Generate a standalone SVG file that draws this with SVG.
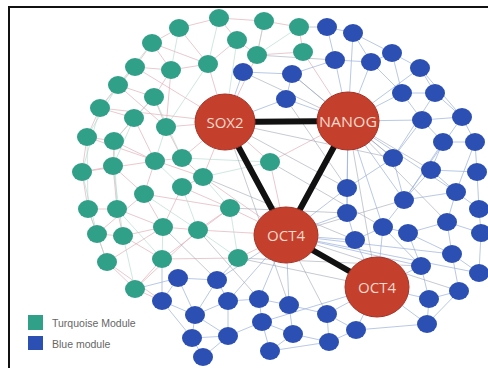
<svg xmlns="http://www.w3.org/2000/svg" width="488" height="368" viewBox="0 0 488 368">
<defs>
<style>
.t{fill:#31a088}
.b{fill:#2c4fb4}
.hub{fill:#c4402d;stroke:#a83224;stroke-width:1}
.hl{font-family:"Open Sans","DejaVu Sans",sans-serif;font-size:15px;fill:#f7d8cb;text-anchor:middle}
.ep{fill:none;stroke:#e3b3bb;stroke-width:0.8;opacity:0.9}
.et{fill:none;stroke:#a9d6c9;stroke-width:0.7;opacity:0.8}
.eb{fill:none;stroke:#9db3db;stroke-width:0.8;opacity:0.9}
.eg{fill:none;stroke:#9aa0b0;stroke-width:0.7;opacity:0.8}
.ek{stroke:#111;stroke-width:6;stroke-linecap:round}
.lg{font-family:"Liberation Sans",Arial,sans-serif;font-size:10.5px;fill:#666}
</style>
</defs>
<rect width="488" height="368" fill="#fff"/>
<path d="M9 368V7H488" fill="none" stroke="#111" stroke-width="2"/>
<g id="connectors">
<path class="ep" d="M219 18L179 28M219 18L237 40M179 28L152 43M152 43L135 67M135 67L118 85M118 85L100 108M100 108L87 137M87 137L82 172M82 172L88 209M88 209L97 234M97 234L107 262M107 262L135 289M152 43L171 70M171 70L154 97M154 97L134 118M134 118L114 141M114 141L113 166M113 166L117 209M117 209L123 236M123 236L162 259M162 259L135 289M135 67L171 70M118 85L154 97M100 108L134 118M87 137L114 141M82 172L113 166M88 209L117 209M97 234L123 236M171 70L208 64M208 64L237 40M154 97L166 127M166 127L182 158M155 161L182 158M155 161L144 194M144 194L163 227M163 227L198 230M198 230L230 208M203 177L182 187M182 187L163 227M166 127L225 122M208 64L225 122M182 158L225 122M203 177L286 235M230 208L286 235M198 230L286 235M238 258L286 235M134 118L155 161M114 141L155 161M113 166L144 194M117 209L163 227M123 236L163 227M182 187L230 208M179 28L208 64M237 40L257 55M257 55L264 21M264 21L299 27M299 27L303 52M303 52L257 55M219 18L264 21M257 55L225 122M303 52L348 121M270 162L286 235M270 162L348 121M270 162L225 122M162 259L238 258M135 289L162 301M107 262L162 301M100 108L225 122M87 137L203 177M118 85L166 127M135 67L225 122M152 43L208 64M82 172L155 161M97 234L144 194M107 262L163 227M135 289L198 230M162 259L230 208M144 194L230 208M203 177L225 122M182 158L203 177M171 70L166 127"/>
<path class="et" d="M179 28L171 70M152 43L118 85M135 67L100 108M118 85L87 137M100 108L82 172M87 137L88 209M82 172L97 234M88 209L107 262M154 97L114 141M134 118L113 166M114 141L117 209M113 166L123 236M117 209L162 259M123 236L135 289M166 127L155 161M154 97L182 158M155 161L182 187M144 194L198 230M163 227L162 259M182 187L198 230M203 177L230 208M219 18L208 64M237 40L225 122M264 21L257 55M299 27L257 55M208 64L166 127M182 158L270 162M203 177L270 162M230 208L238 258M198 230L238 258"/>
<path class="eb" d="M327 27L353 33M327 27L335 60M353 33L371 62M335 60L292 74M335 60L371 62M371 62L392 53M392 53L420 68M392 53L402 93M420 68L435 93M402 93L435 93M402 93L422 120M435 93L462 117M422 120L462 117M422 120L443 142M462 117L475 142M443 142L475 142M443 142L431 170M475 142L477 172M431 170L477 172M431 170L456 192M477 172L479 209M456 192L479 209M456 192L447 222M479 209L481 233M447 222L481 233M447 222L452 254M481 233L479 273M452 254L479 273M452 254L459 291M459 291L429 299M429 299L427 324M421 266L429 299M421 266L408 233M408 233L383 227M383 227L404 200M404 200L393 158M393 158L422 120M408 233L447 222M355 240L347 213M347 213L347 188M347 188L393 158M243 72L292 74M292 74L286 99M286 99L225 122M243 72L225 122M286 99L348 121M292 74L348 121M335 60L348 121M371 62L348 121M402 93L348 121M422 120L348 121M393 158L348 121M347 188L348 121M347 213L348 121M404 200L348 121M383 227L348 121M456 192L348 121M347 213L286 235M355 240L286 235M347 188L286 235M259 299L286 235M289 305L286 235M327 314L377 287M356 330L377 287M427 324L377 287M429 299L377 287M421 266L377 287M355 240L377 287M383 227L377 287M259 299L289 305M289 305L327 314M327 314L356 330M262 322L293 334M293 334L329 342M329 342L270 351M262 322L270 351M259 299L262 322M289 305L293 334M356 330L329 342M178 278L217 280M217 280L228 301M228 301L195 315M195 315L192 338M192 338L203 357M228 336L203 357M162 301L195 315M178 278L162 301M228 301L228 336M195 315L228 336M228 301L259 299M217 280L238 258M178 278L135 289M286 235L217 280M286 235L228 301M262 322L377 287M286 235L479 273M286 235L452 254M286 235L421 266M162 301L162 259M353 33L348 121M420 68L348 121M435 93L393 158M462 117L404 200M443 142L404 200M431 170L404 200M475 142L456 192M420 68L462 117M371 62L402 93M353 33L392 53M408 233L452 254M383 227L421 266M355 240L383 227M404 200L456 192M427 324L459 291M356 330L427 324M327 314L329 342M293 334L270 351M228 336L262 322M192 338L228 336M162 301L192 338M178 278L195 315M217 280L195 315"/>
<path class="eg" d="M348 121L377 287M225 122L393 158M286 235L404 200M225 122L347 188M270 162L383 227M203 177L355 240M238 258L421 266M286 235L459 291M243 72L348 121M257 55L335 60M299 27L327 27M225 122L289 305M286 99L347 188M292 74L393 158M348 121L447 222M348 121L431 170M286 235L327 314M238 258L377 287M230 208L347 213M198 230L259 299M163 227L217 280"/>
<line class="ek" x1="225" y1="122" x2="348" y2="121"/>
<line class="ek" x1="225" y1="122" x2="286" y2="235"/>
<line class="ek" x1="348" y1="121" x2="286" y2="235"/>
<line class="ek" x1="286" y1="235" x2="377" y2="287"/>
</g>
<g id="t1"><ellipse class="t" cx="219" cy="18" rx="10" ry="9"/></g>
<g id="t2"><ellipse class="t" cx="179" cy="28" rx="10" ry="9"/></g>
<g id="t3"><ellipse class="t" cx="264" cy="21" rx="10" ry="9"/></g>
<g id="t4"><ellipse class="t" cx="299" cy="27" rx="10" ry="9"/></g>
<g id="t5"><ellipse class="t" cx="237" cy="40" rx="10" ry="9"/></g>
<g id="t6"><ellipse class="t" cx="152" cy="43" rx="10" ry="9"/></g>
<g id="t7"><ellipse class="t" cx="257" cy="55" rx="10" ry="9"/></g>
<g id="t8"><ellipse class="t" cx="303" cy="52" rx="10" ry="9"/></g>
<g id="t9"><ellipse class="t" cx="135" cy="67" rx="10" ry="9"/></g>
<g id="t10"><ellipse class="t" cx="171" cy="70" rx="10" ry="9"/></g>
<g id="t11"><ellipse class="t" cx="208" cy="64" rx="10" ry="9"/></g>
<g id="t12"><ellipse class="t" cx="118" cy="85" rx="10" ry="9"/></g>
<g id="t13"><ellipse class="t" cx="154" cy="97" rx="10" ry="9"/></g>
<g id="t14"><ellipse class="t" cx="100" cy="108" rx="10" ry="9"/></g>
<g id="t15"><ellipse class="t" cx="134" cy="118" rx="10" ry="9"/></g>
<g id="t16"><ellipse class="t" cx="166" cy="127" rx="10" ry="9"/></g>
<g id="t17"><ellipse class="t" cx="87" cy="137" rx="10" ry="9"/></g>
<g id="t18"><ellipse class="t" cx="114" cy="141" rx="10" ry="9"/></g>
<g id="t19"><ellipse class="t" cx="155" cy="161" rx="10" ry="9"/></g>
<g id="t20"><ellipse class="t" cx="182" cy="158" rx="10" ry="9"/></g>
<g id="t21"><ellipse class="t" cx="82" cy="172" rx="10" ry="9"/></g>
<g id="t22"><ellipse class="t" cx="113" cy="166" rx="10" ry="9"/></g>
<g id="t23"><ellipse class="t" cx="203" cy="177" rx="10" ry="9"/></g>
<g id="t24"><ellipse class="t" cx="182" cy="187" rx="10" ry="9"/></g>
<g id="t25"><ellipse class="t" cx="144" cy="194" rx="10" ry="9"/></g>
<g id="t26"><ellipse class="t" cx="88" cy="209" rx="10" ry="9"/></g>
<g id="t27"><ellipse class="t" cx="117" cy="209" rx="10" ry="9"/></g>
<g id="t28"><ellipse class="t" cx="230" cy="208" rx="10" ry="9"/></g>
<g id="t29"><ellipse class="t" cx="163" cy="227" rx="10" ry="9"/></g>
<g id="t30"><ellipse class="t" cx="198" cy="230" rx="10" ry="9"/></g>
<g id="t31"><ellipse class="t" cx="97" cy="234" rx="10" ry="9"/></g>
<g id="t32"><ellipse class="t" cx="123" cy="236" rx="10" ry="9"/></g>
<g id="t33"><ellipse class="t" cx="162" cy="259" rx="10" ry="9"/></g>
<g id="t34"><ellipse class="t" cx="238" cy="258" rx="10" ry="9"/></g>
<g id="t35"><ellipse class="t" cx="107" cy="262" rx="10" ry="9"/></g>
<g id="t36"><ellipse class="t" cx="135" cy="289" rx="10" ry="9"/></g>
<g id="t37"><ellipse class="t" cx="270" cy="162" rx="10" ry="9"/></g>
<g id="b1"><ellipse class="b" cx="243" cy="72" rx="10" ry="9"/></g>
<g id="b2"><ellipse class="b" cx="327" cy="27" rx="10" ry="9"/></g>
<g id="b3"><ellipse class="b" cx="353" cy="33" rx="10" ry="9"/></g>
<g id="b4"><ellipse class="b" cx="335" cy="60" rx="10" ry="9"/></g>
<g id="b5"><ellipse class="b" cx="292" cy="74" rx="10" ry="9"/></g>
<g id="b6"><ellipse class="b" cx="371" cy="62" rx="10" ry="9"/></g>
<g id="b7"><ellipse class="b" cx="392" cy="53" rx="10" ry="9"/></g>
<g id="b8"><ellipse class="b" cx="420" cy="68" rx="10" ry="9"/></g>
<g id="b9"><ellipse class="b" cx="286" cy="99" rx="10" ry="9"/></g>
<g id="b10"><ellipse class="b" cx="402" cy="93" rx="10" ry="9"/></g>
<g id="b11"><ellipse class="b" cx="435" cy="93" rx="10" ry="9"/></g>
<g id="b12"><ellipse class="b" cx="422" cy="120" rx="10" ry="9"/></g>
<g id="b13"><ellipse class="b" cx="462" cy="117" rx="10" ry="9"/></g>
<g id="b14"><ellipse class="b" cx="393" cy="158" rx="10" ry="9"/></g>
<g id="b15"><ellipse class="b" cx="443" cy="142" rx="10" ry="9"/></g>
<g id="b16"><ellipse class="b" cx="475" cy="142" rx="10" ry="9"/></g>
<g id="b17"><ellipse class="b" cx="431" cy="170" rx="10" ry="9"/></g>
<g id="b18"><ellipse class="b" cx="477" cy="172" rx="10" ry="9"/></g>
<g id="b19"><ellipse class="b" cx="347" cy="188" rx="10" ry="9"/></g>
<g id="b20"><ellipse class="b" cx="347" cy="213" rx="10" ry="9"/></g>
<g id="b21"><ellipse class="b" cx="404" cy="200" rx="10" ry="9"/></g>
<g id="b22"><ellipse class="b" cx="456" cy="192" rx="10" ry="9"/></g>
<g id="b23"><ellipse class="b" cx="479" cy="209" rx="10" ry="9"/></g>
<g id="b24"><ellipse class="b" cx="383" cy="227" rx="10" ry="9"/></g>
<g id="b25"><ellipse class="b" cx="408" cy="233" rx="10" ry="9"/></g>
<g id="b26"><ellipse class="b" cx="447" cy="222" rx="10" ry="9"/></g>
<g id="b27"><ellipse class="b" cx="481" cy="233" rx="10" ry="9"/></g>
<g id="b28"><ellipse class="b" cx="355" cy="240" rx="10" ry="9"/></g>
<g id="b29"><ellipse class="b" cx="452" cy="254" rx="10" ry="9"/></g>
<g id="b30"><ellipse class="b" cx="421" cy="266" rx="10" ry="9"/></g>
<g id="b31"><ellipse class="b" cx="479" cy="273" rx="10" ry="9"/></g>
<g id="b32"><ellipse class="b" cx="259" cy="299" rx="10" ry="9"/></g>
<g id="b33"><ellipse class="b" cx="289" cy="305" rx="10" ry="9"/></g>
<g id="b34"><ellipse class="b" cx="327" cy="314" rx="10" ry="9"/></g>
<g id="b35"><ellipse class="b" cx="429" cy="299" rx="10" ry="9"/></g>
<g id="b36"><ellipse class="b" cx="459" cy="291" rx="10" ry="9"/></g>
<g id="b37"><ellipse class="b" cx="262" cy="322" rx="10" ry="9"/></g>
<g id="b38"><ellipse class="b" cx="293" cy="334" rx="10" ry="9"/></g>
<g id="b39"><ellipse class="b" cx="356" cy="330" rx="10" ry="9"/></g>
<g id="b40"><ellipse class="b" cx="427" cy="324" rx="10" ry="9"/></g>
<g id="b41"><ellipse class="b" cx="329" cy="342" rx="10" ry="9"/></g>
<g id="b42"><ellipse class="b" cx="270" cy="351" rx="10" ry="9"/></g>
<g id="b43"><ellipse class="b" cx="178" cy="278" rx="10" ry="9"/></g>
<g id="b44"><ellipse class="b" cx="217" cy="280" rx="10" ry="9"/></g>
<g id="b45"><ellipse class="b" cx="162" cy="301" rx="10" ry="9"/></g>
<g id="b46"><ellipse class="b" cx="228" cy="301" rx="10" ry="9"/></g>
<g id="b47"><ellipse class="b" cx="195" cy="315" rx="10" ry="9"/></g>
<g id="b48"><ellipse class="b" cx="192" cy="338" rx="10" ry="9"/></g>
<g id="b49"><ellipse class="b" cx="228" cy="336" rx="10" ry="9"/></g>
<g id="b50"><ellipse class="b" cx="203" cy="357" rx="10" ry="9"/></g>
<g id="sox2"><ellipse class="hub" cx="225" cy="122" rx="30" ry="28"/><text class="hl" x="225" y="127.5">SOX2</text></g>
<g id="nanog"><ellipse class="hub" cx="348" cy="121" rx="31" ry="29"/><text class="hl" x="348" y="126.5" textLength="58" lengthAdjust="spacingAndGlyphs">NANOG</text></g>
<g id="oct4"><ellipse class="hub" cx="286" cy="235" rx="32" ry="28"/><text class="hl" x="286" y="240.5">OCT4</text></g>
<g id="oct4b"><ellipse class="hub" cx="377" cy="287" rx="32" ry="30"/><text class="hl" x="377" y="292.5">OCT4</text></g>
<g id="legend">
<rect x="28" y="315" width="15" height="15" class="t"/>
<text class="lg" x="52" y="327">Turquoise Module</text>
<rect x="28" y="336" width="15" height="14" class="b"/>
<text class="lg" x="52" y="348">Blue module</text>
</g>
</svg>
